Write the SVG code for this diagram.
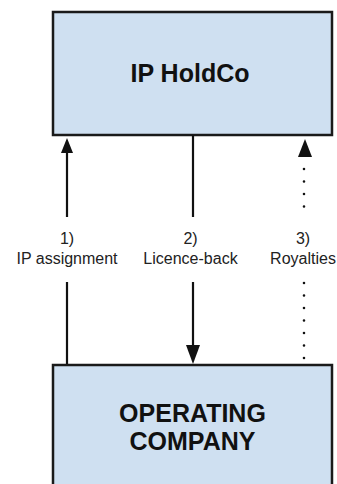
<svg xmlns="http://www.w3.org/2000/svg" width="337" height="484" viewBox="0 0 337 484">
<style>
.box{fill:#cfe0f1;stroke:#1a1a1a;stroke-width:2.5}
.t{font-family:"Liberation Sans",Arial,sans-serif;font-weight:bold;font-size:25px;fill:#111;text-anchor:middle}
.l{font-family:"Liberation Sans",Arial,sans-serif;font-size:16px;fill:#222;text-anchor:middle}
.ln{stroke:#111;stroke-width:2.2;fill:none}
.dot{stroke:#111;stroke-width:2.6;stroke-linecap:round;stroke-dasharray:0 12.5;fill:none}
.ah{fill:#111}
</style>
<rect width="337" height="484" fill="#fff"/>
<g id="ip-holdco">
<rect class="box" x="53" y="12" width="279" height="123"/>
<text class="t" x="190" y="82">IP HoldCo</text>
</g>
<g id="operating-company">
<rect class="box" x="53" y="365" width="279" height="130"/>
<text class="t" x="192.5" y="422">OPERATING</text>
<text class="t" x="192.5" y="450">COMPANY</text>
</g>
<g id="connectors">
<line class="ln" x1="67" y1="150" x2="67" y2="217"/>
<line class="ln" x1="67" y1="282" x2="67" y2="364"/>
<polygon class="ah" points="67,138 61,153 73,153"/>
<line class="ln" x1="193" y1="135" x2="193" y2="217"/>
<line class="ln" x1="193" y1="282" x2="193" y2="348"/>
<polygon class="ah" points="193,364 186,345 200,345"/>
<polygon class="ah" points="305,139 298,157 312,157"/>
<line class="dot" x1="304" y1="169" x2="304" y2="210"/>
<line class="dot" x1="304" y1="283" x2="304" y2="362"/>
<text class="l" x="67" y="244">1)</text>
<text class="l" x="67" y="264">IP assignment</text>
<text class="l" x="190.5" y="244">2)</text>
<text class="l" x="190.5" y="264">Licence-back</text>
<text class="l" x="303" y="244">3)</text>
<text class="l" x="303" y="264">Royalties</text>
</g>
</svg>
